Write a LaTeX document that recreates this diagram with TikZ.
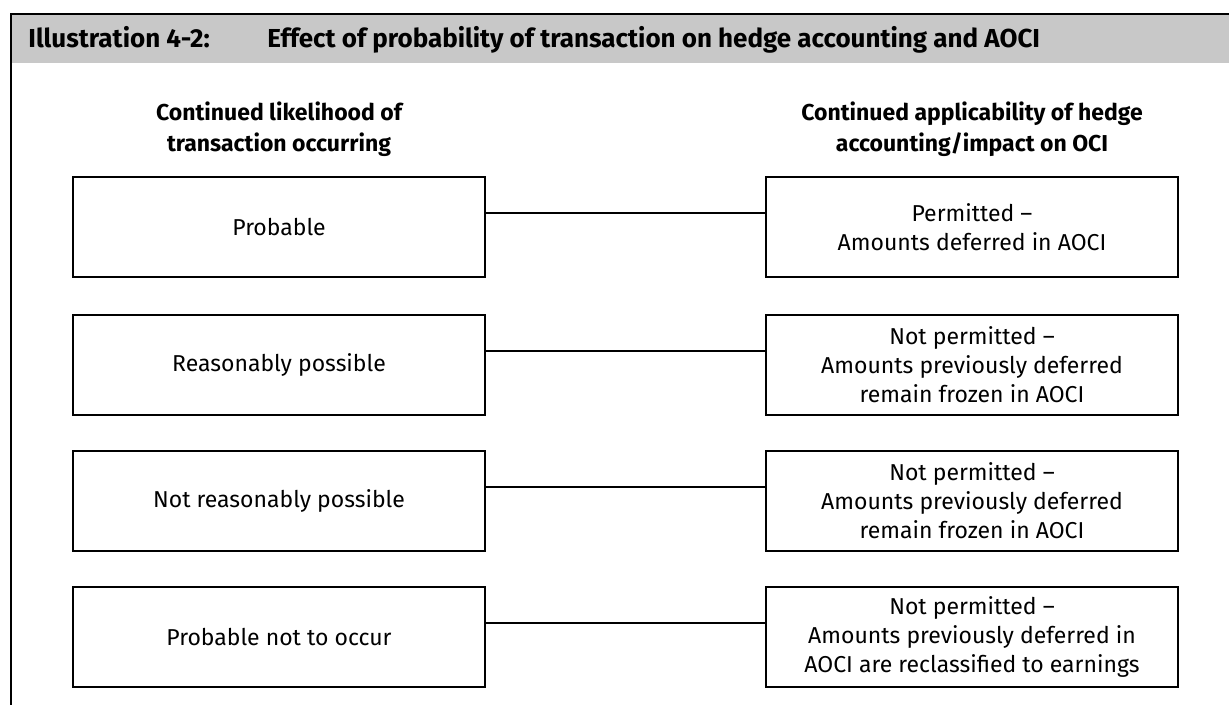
\documentclass[tikz,border=0pt]{standalone}
\usepackage{fontspec}
\setmainfont{Fira Sans}
\usepackage{tikz}
\definecolor{bandgray}{RGB}{200,200,200}
\tikzstyle{box} = [draw,line width=1pt,minimum width=206pt,minimum height=50pt,
  align=center,font=\fontsize{11.5}{14.5}\selectfont]
\tikzstyle{head} = [align=center,font=\fontsize{11.5}{15.5}\selectfont\bfseries]
\tikzstyle{title} = [inner sep=0pt,anchor=base west,font=\fontsize{13}{15}\selectfont\bfseries]

\begin{document}
\begin{tikzpicture}[x=0.5pt,y=-0.5pt]
        \useasboundingbox (0,0) rectangle (1229,705);

        % title band and frame
        \fill[bandgray] (11,14) rectangle (1229,63);
        \draw[line width=1pt] (11,705) -- (11,14) -- (1229,14);
        \node[title] (T) at (28,48) {Illustration 4-2:};
        \node[title] (U) at (267,48)
          {Effect of probability of transaction on hedge accounting and AOCI};

        % column headings
        \node[head] (HL) at (279,129) {Continued likelihood of\\transaction occurring};
        \node[head] (HR) at (972,129) {Continued applicability of hedge\\accounting/impact on OCI};

        % likelihood boxes
        \node[box] (L1) at (279,227) {Probable};
        \node[box] (L2) at (279,365) {Reasonably possible};
        \node[box] (L3) at (279,501) {Not reasonably possible};
        \node[box] (L4) at (279,637) {Probable not to occur};

        % outcome boxes
        \node[box] (R1) at (972,227) {Permitted --\\Amounts deferred in AOCI};
        \node[box] (R2) at (972,365) {Not permitted --\\Amounts previously deferred\\remain frozen in AOCI};
        \node[box] (R3) at (972,501) {Not permitted --\\Amounts previously deferred\\remain frozen in AOCI};
        \node[box] (R4) at (972,637) {Not permitted --\\Amounts previously deferred in\\AOCI are reclassified to earnings};

        % links
        \draw[line width=1pt] ([yshift=7pt]L1.east) -- ([yshift=7pt]R1.west);
        \draw[line width=1pt] ([yshift=7pt]L2.east) -- ([yshift=7pt]R2.west);
        \draw[line width=1pt] ([yshift=7pt]L3.east) -- ([yshift=7pt]R3.west);
        \draw[line width=1pt] ([yshift=7pt]L4.east) -- ([yshift=7pt]R4.west);

      \end{tikzpicture}
\end{document}
